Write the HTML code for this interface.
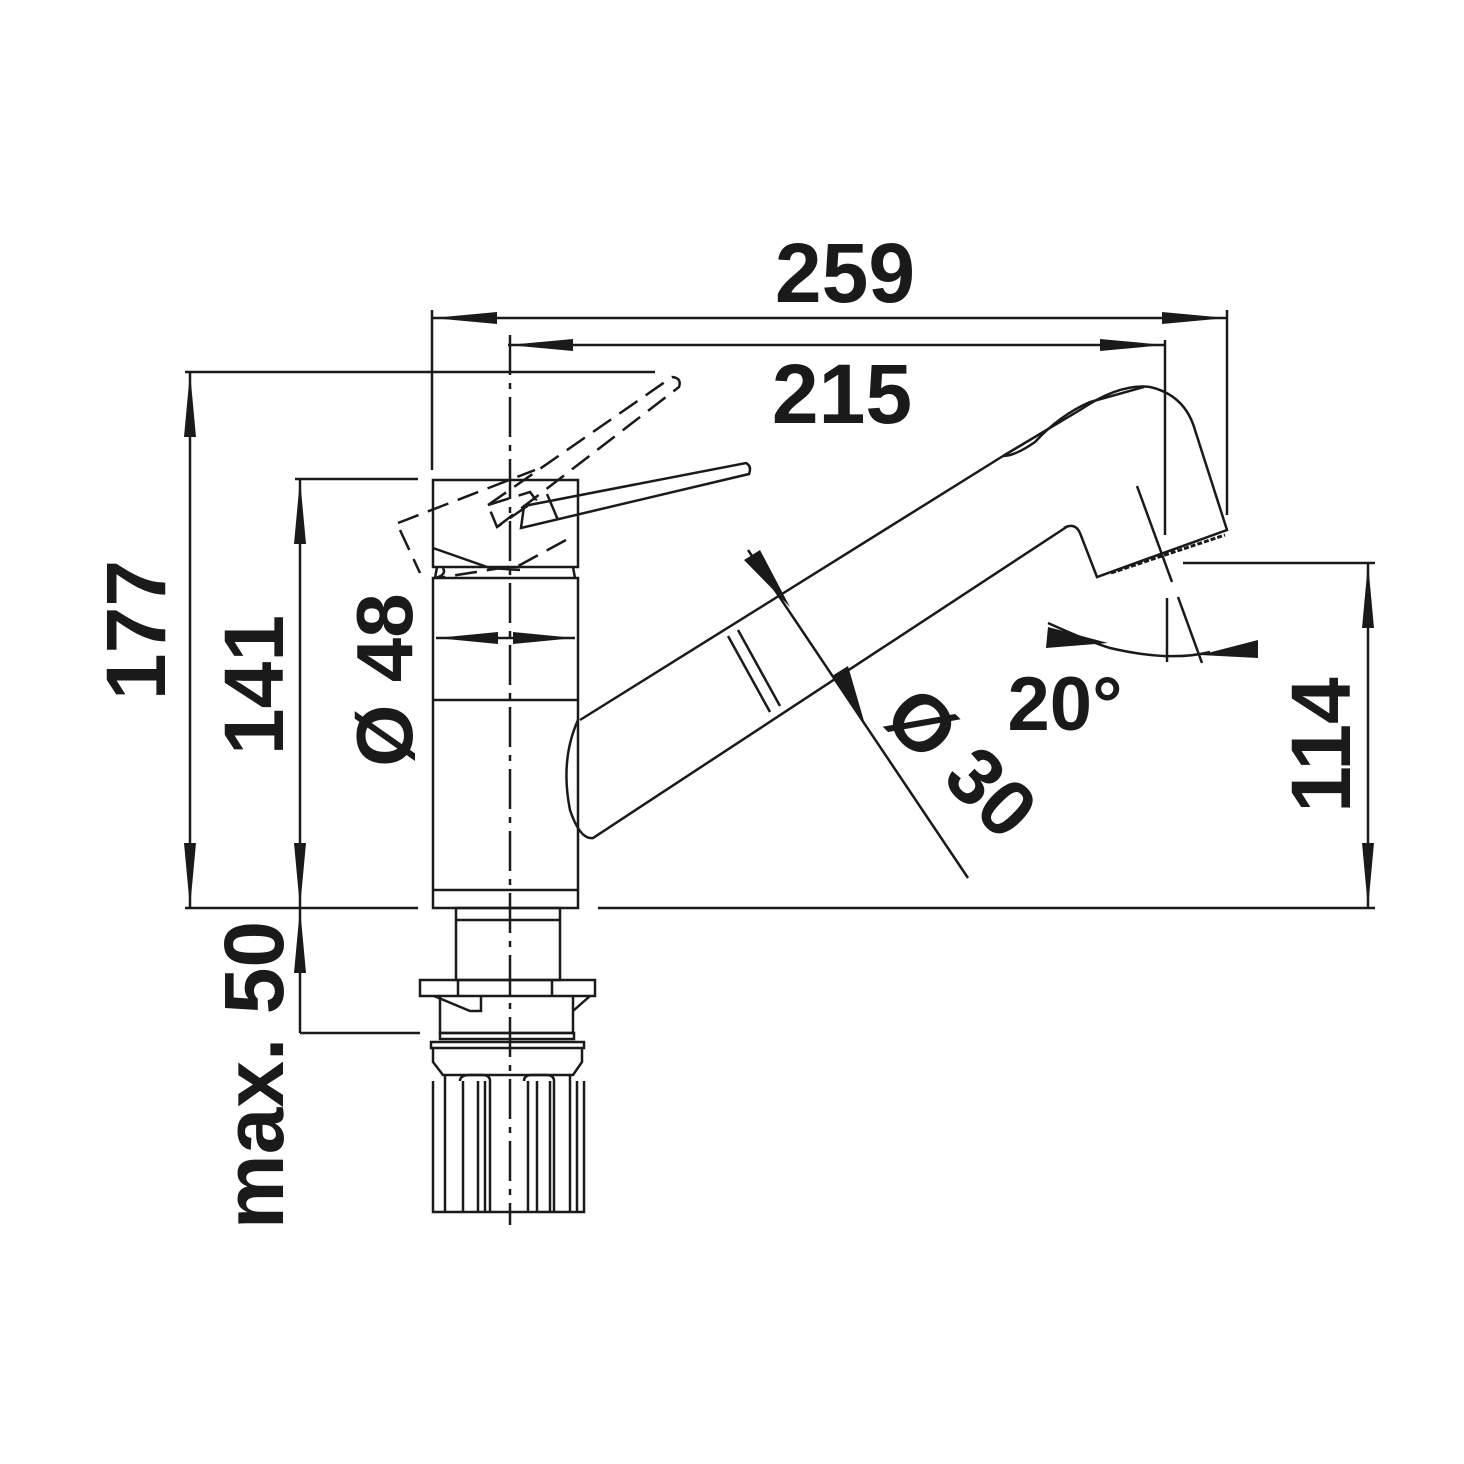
<!DOCTYPE html>
<html><head><meta charset="utf-8"><style>
html,body{margin:0;padding:0;background:#fff}
svg{display:block}
text{font-family:"Liberation Sans",Arial,sans-serif;font-weight:bold;fill:#1a1a1a}
</style></head><body>
<svg width="1464" height="1464" viewBox="0 0 1464 1464" xmlns="http://www.w3.org/2000/svg">
<g stroke="#1a1a1a" stroke-width="2.5" fill="none">
<line x1="432" y1="318" x2="1227" y2="318"/>
<line x1="432" y1="310" x2="432" y2="470"/>
<line x1="1227" y1="310" x2="1227" y2="515"/>
<line x1="508" y1="345" x2="1165" y2="345"/>
<line x1="1165" y1="340" x2="1165" y2="535"/>
<line x1="510" y1="335" x2="510" y2="1225" stroke-dasharray="40,8,6,8"/>
<line x1="185" y1="372" x2="655" y2="372"/>
<line x1="190" y1="372" x2="190" y2="908"/>
<line x1="295" y1="479" x2="418" y2="479"/>
<line x1="300" y1="479" x2="300" y2="1033"/>
<line x1="185" y1="908" x2="418" y2="908"/>
<line x1="598" y1="908" x2="1375" y2="908"/>
<line x1="300" y1="1033" x2="420" y2="1033"/>
<line x1="1183" y1="563" x2="1375" y2="563"/>
<line x1="1368" y1="563" x2="1368" y2="908"/>
<line x1="436" y1="638" x2="575" y2="638"/>
<line x1="748" y1="550" x2="968" y2="878"/>

<rect x="433" y="578" width="145" height="330"/>
<line x1="433" y1="700" x2="578" y2="700"/>
<line x1="433" y1="890" x2="578" y2="890"/>
<rect x="433" y="480" width="145" height="87"/>
<path d="M435 578 L437 567 M575 578 L573 567"/>
<path d="M433 548 L490 568 L520 570"/>
<path d="M443 568 Q447 575 435 578"/>
<path d="M524 506 L746 463 Q752 466 749 474 L521 528 Z"/>
<path d="M547 494 L558 520"/>
<g stroke-dasharray="22,10">
<path d="M398 523 L535 470 M488 505 L530 492 L536 500 L497 527 Z"/>
<path d="M488 505 L672 377 Q682 378 679 387 L497 527"/>
<path d="M400 530 L420 573 M566 540 L520 565 L438 578"/>
</g>
<path d="M580 720 L1003 456"/>
<path d="M578 720 Q560 760 570 810 Q580 840 593 838 L1068 526"/>
<path d="M728 636 L770 712 M738 630 L780 706"/>
<path d="M1003 456 Q1015 456 1035 442 Q1060 415 1090 402 L1144 387"/>
<path d="M1003 456 L1080 410 Q1120 383 1150 387 Q1185 395 1195 430 L1227 530 L1097 577 L1080 533 Q1075 522 1064 528"/>
<path d="M1111 573 L1225 535" stroke-width="3" stroke-dasharray="5,2"/>
<path d="M1137 486 L1172 582"/>
<path d="M1167 598 L1167 662 M1178 597 L1202 663"/>
<path d="M1048 623 Q1090 642 1110 648 Q1170 662 1210 652"/>

<rect x="456" y="908" width="104" height="72"/>
<line x1="456" y1="920" x2="560" y2="920"/>
<rect x="420" y="980" width="175" height="16"/>
<line x1="458" y1="980" x2="458" y2="996"/>
<line x1="552" y1="980" x2="552" y2="996"/>
<path d="M440 996 L440 1033 L573 1033 L573 996"/>
<path d="M434 996 L470 1011 L481 1011 L481 996 M573 1011 L590 996"/>
<rect x="440" y="1033" width="134" height="6"/>
<rect x="431" y="1042" width="153" height="6"/>
<path d="M433 1048 L433 1062 L443 1075 L573 1075 L582 1062 L582 1048"/>
<path d="M433 1081 L433 1212 L584 1212 L584 1081"/>
<path d="M445 1075 L445 1212 M460 1081 Q460 1075 470 1075 L482 1075 Q490 1075 490 1081 L490 1212 M463 1081 L463 1212 M478 1081 L478 1212 M485 1081 L485 1212"/>
<path d="M524 1081 Q524 1075 532 1075 L546 1075 Q554 1075 554 1081 L554 1212 M528 1081 L528 1212 M537 1081 L537 1212 M550 1081 L550 1212 M570 1075 L570 1212 M577 1081 L577 1212"/>
</g>
<g fill="#1a1a1a">
<polygon points="432,318 497,312 497,324"/>
<polygon points="1227,318 1162,312 1162,324"/>
<polygon points="508,345 573,339 573,351"/>
<polygon points="1165,345 1100,339 1100,351"/>
<polygon points="190,372 184,437 196,437"/>
<polygon points="190,908 184,843 196,843"/>
<polygon points="300,479 294,544 306,544"/>
<polygon points="300,908 294,843 306,843"/>
<polygon points="300,908 294,973 306,973"/>
<polygon points="1368,563 1362,628 1374,628"/>
<polygon points="1368,908 1362,843 1374,843"/>
<polygon points="436,638 498,632 498,644"/>
<polygon points="575,638 513,632 513,644"/>
<polygon points="760,550 744,560 790,607"/>
<polygon points="832,676 848,666 866,728"/>
<polygon points="1108,643 1048,627 1046,648"/>
<polygon points="1200,655 1258,640 1258,658"/>
</g>
<text x="845" y="302" font-size="84" text-anchor="middle">259</text>
<text x="842" y="423" font-size="84" text-anchor="middle">215</text>
<text x="1065" y="730" font-size="76" text-anchor="middle">20°</text>
<text transform="translate(165,630) rotate(-90)" font-size="84" text-anchor="middle">177</text>
<text transform="translate(283,685) rotate(-90)" font-size="84" text-anchor="middle">141</text>
<text transform="translate(412,680) rotate(-90)" font-size="80" text-anchor="middle">Ø 48</text>
<text transform="translate(1350,745) rotate(-90)" font-size="84" text-anchor="middle">114</text>
<text transform="translate(283,1075) rotate(-90)" font-size="84" text-anchor="middle">max. 50</text>
<text transform="translate(942,782) rotate(45)" font-size="80" text-anchor="middle">Ø 30</text>
</svg>
</body></html>
